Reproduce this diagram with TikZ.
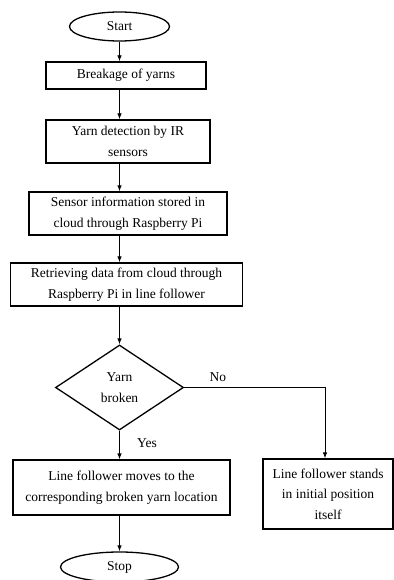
\documentclass[tikz,border=0pt]{standalone}
\usepackage{fontspec}
\setmainfont{Liberation Serif}
\usepackage{tikz}
\usetikzlibrary{shapes.geometric,arrows.meta}

\begin{document}
\begin{tikzpicture}[x=1pt,y=-1pt,
	font=\fontsize{13.5}{20.5}\selectfont,
	>={Latex[length=6pt,width=4.5pt]},
	term/.style={ellipse, draw, line width=1.3pt, inner sep=0pt},
	proc/.style={rectangle, draw, line width=1.3pt, align=center, inner sep=0pt},
	decide/.style={diamond, draw, line width=1.3pt, align=center, inner sep=0pt},
	flow/.style={->, line width=0.8pt}]
	\useasboundingbox (0,0) rectangle (393,580);
	\node (start) at (119.5,26.5) [term, minimum width=100pt, minimum height=29pt] {Start};
	\node (breakage) at (126,75.5) [proc, minimum width=160pt, minimum height=27pt] {Breakage of yarns};
	\node (detect) at (128,141.5) [proc, minimum width=164pt, minimum height=43pt] {Yarn detection by IR\\sensors};
	\node (store) at (128,213.5) [proc, minimum width=198pt, minimum height=43pt] {Sensor information stored in\\cloud through Raspberry Pi};
	\node (retrieve) at (126.5,284.5) [proc, minimum width=232pt, minimum height=43pt] {Retrieving data from cloud through\\Raspberry Pi in line follower};
		\node (broken) at (119.5,387.5) [decide, minimum width=128pt, minimum height=85pt] {Yarn\\broken};
		\node (moves) at (121.5,487.5) [proc, minimum width=217pt, minimum height=55pt] {Line follower moves to the\\corresponding broken yarn location};
		\node (stands) at (328,494) [proc, minimum width=130pt, minimum height=70pt] {Line follower stands\\in initial position\\itself};
			\node (stop) at (119.5,567) [term, minimum width=118pt, minimum height=30pt] {Stop};
	\draw[flow] (start.south) to (start.south |- breakage.north);
	\draw[flow] (start.south |- breakage.south) to (start.south |- detect.north);
	\draw[flow] (start.south |- detect.south) to (start.south |- store.north);
	\draw[flow] (start.south |- store.south) to (start.south |- retrieve.north);
	\draw[flow] (start.south |- retrieve.south) to (broken.north);
	\draw[flow] (broken.south) to node [pos=0.45, right=14pt] {Yes} (broken.south |- moves.north);
	\draw[flow] (broken.east) -| node [pos=0.12, above=2pt] {No} ([xshift=-3pt]stands.north);
	\draw[flow] (broken.south |- moves.south) to (stop.north);
	\end{tikzpicture}
\end{document}
